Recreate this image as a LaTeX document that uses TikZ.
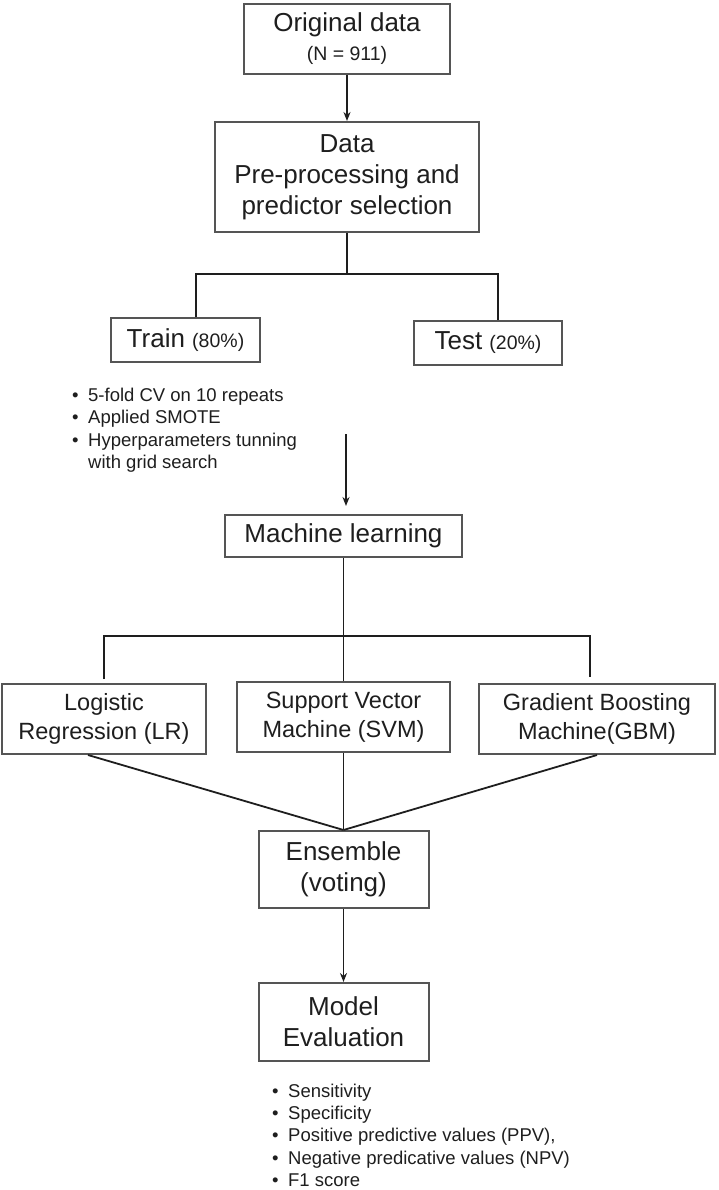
\documentclass[tikz,border=0pt]{standalone}
\usepackage{fontspec}
\setmainfont{Liberation Sans}
\usepackage{xcolor}
\usepackage{tikz}
\usetikzlibrary{shapes.geometric, arrows}
\usetikzlibrary{arrows.meta}
\definecolor{boxgray}{HTML}{555555}
\definecolor{ink}{HTML}{1E1E1E}
\tikzstyle{process} = [rectangle, text centered, align=center, draw=boxgray, line width=2pt, text=ink, inner sep=0pt, font=\fontsize{26}{31}\selectfont]
\tikzstyle{model} = [process, minimum height=70pt, font=\fontsize{23.5}{29}\selectfont]
\tikzstyle{notes} = [align=left, text=ink, inner sep=0pt, font=\fontsize{18.5}{22.3}\selectfont]
\tikzstyle{line} = [draw=ink, line width=1.8pt]
\tikzstyle{arrow} = [line, ->, >={Stealth[length=9pt,width=7pt]}]
\newcommand{\itemdot}{\makebox[16pt][l]{\textbullet}}
\newcommand{\smalltext}[1]{{\fontsize{19.5}{23}\selectfont #1}}

\begin{document}
\begin{tikzpicture}
                        \useasboundingbox (0,0) rectangle (718pt,-1190pt);

                        \node (1) [process, minimum width=206pt, minimum height=70pt] at (347pt,-39pt) {Original data\\[-2pt]\smalltext{(N = 911)}};
                        \node (2) [process, below of=1, node distance=138pt, minimum width=264pt, minimum height=110pt] {Data\\Pre-processing and\\predictor selection};

                        \node (3) [process, below of=2, node distance=163pt, xshift=-161.5pt, minimum width=149pt, minimum height=44pt] {Train \smalltext{(80\%)}};
                        \node (4) [process, below of=2, node distance=166pt, xshift=141pt, minimum width=148pt, minimum height=44pt] {Test \smalltext{(20\%)}};
                        % base anchor sits on the last line
                        \node (trainnotes) [notes, below of=3, node distance=128.5pt, xshift=-113.5pt, anchor=base west] {\itemdot 5-fold CV on 10 repeats\\\itemdot Applied SMOTE\\\itemdot Hyperparameters tunning\\\hspace*{16pt}with grid search};

                        \node (5) [process, below of=2, node distance=359pt, xshift=-3.5pt, minimum width=237pt, minimum height=42pt] {Machine learning};

                        \node (7) [model, below of=5, node distance=181pt, minimum width=213pt] {Support Vector\\Machine (SVM)};
                        \node (6) [model, left of=7, node distance=239.5pt, yshift=-2pt, minimum width=204pt] {Logistic\\Regression (LR)};
                        \node (8) [model, right of=7, node distance=253.5pt, yshift=-2pt, minimum width=236pt] {Gradient Boosting\\Machine(GBM)};

                        \node (9) [process, below of=7, node distance=152.5pt, minimum width=170pt, minimum height=77pt] {Ensemble\\(voting)};
                        \node (10) [process, below of=9, node distance=152.5pt, minimum width=170pt, minimum height=78pt] {Model\\Evaluation};
                        \node (evalnotes) [notes, below of=10, node distance=164.5pt, xshift=-71.5pt, anchor=base west] {\itemdot Sensitivity\\\itemdot Specificity\\\itemdot Positive predictive values (PPV),\\\itemdot Negative predicative values (NPV)\\\itemdot F1 score};

                        \coordinate (split) at ([yshift=-41pt]2.south);
                        \coordinate (fork) at ([yshift=-78pt]5.south);
                        \coordinate (mlin) at ([xshift=2.5pt,yshift=8pt]5.north);

                        \draw[arrow] (1) -- (2);
                        \draw[line] (2.south) -- (split);
                        \draw[line] ([xshift=10.5pt]3.north) |- (split) -| ([xshift=10pt]4.north);
                        \draw[arrow] ([yshift=72pt]mlin) -- (mlin);

                        \draw[line] (5.south) -- (7.north);
                        \draw[line] ([yshift=4pt]6.north) |- (fork) -| ([xshift=-7pt,yshift=6pt]8.north);

                        \draw[line] ([xshift=-16pt]6.south) -- (9.north);
                        \draw[line] (7.south) -- (9.north);
                        \draw[line] (8.south) -- (9.north);
                        \draw[arrow] (9) -- (10);

                    \end{tikzpicture}
\end{document}
